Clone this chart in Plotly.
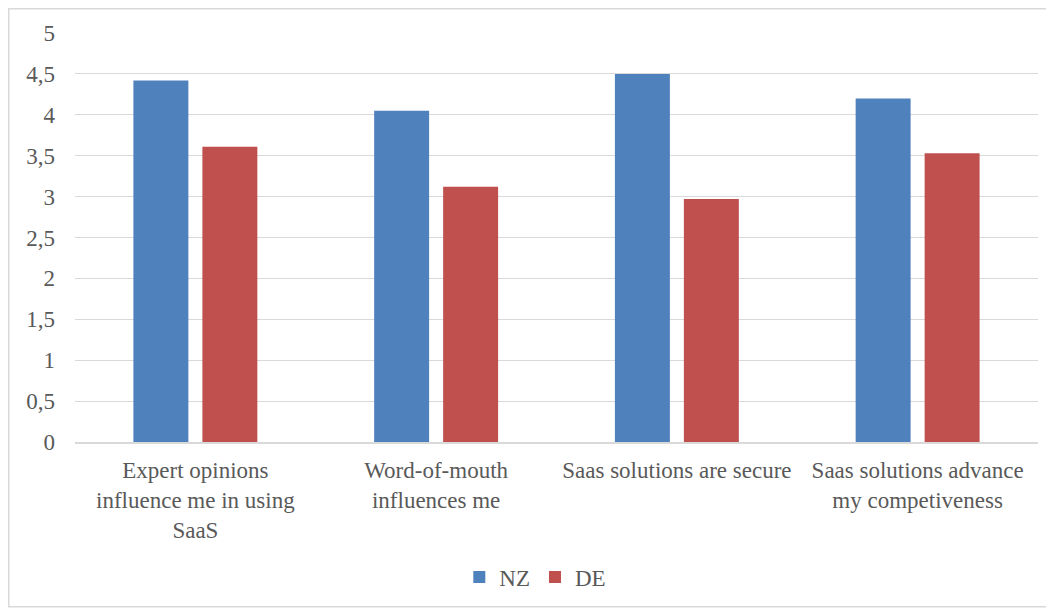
import plotly.graph_objects as go

categories = [
    "Expert opinions<br>influence me in using<br>SaaS",
    "Word-of-mouth<br>influences me",
    "Saas solutions are secure",
    "Saas solutions advance<br>my competiveness",
]
nz_values = [4.42, 4.05, 4.50, 4.20]
de_values = [3.61, 3.12, 2.97, 3.53]
y_ticks = [0, 0.5, 1, 1.5, 2, 2.5, 3, 3.5, 4, 4.5, 5]
y_tick_labels = ["0", "0,5", "1", "1,5", "2", "2,5", "3", "3,5", "4", "4,5", "5"]

FONT = "'Times New Roman', 'Liberation Serif', 'DejaVu Serif', serif"
TEXT = "#595959"
FS = 23

fig = go.Figure()
fig.add_trace(go.Bar(name="NZ", x=categories, y=nz_values, marker_color="#4f81bd",
                     marker_line_width=0))
fig.add_trace(go.Bar(name="DE", x=categories, y=de_values, marker_color="#c0504d",
                     marker_line_width=0))

# page body has an 8px margin, so the figure is drawn 8px smaller and offset
fig.update_layout(
    width=1046, height=606,
    margin=dict(l=67, r=16, t=25, b=172, autoexpand=False),
    paper_bgcolor="white", plot_bgcolor="white",
    barmode="group", bargap=0.427, bargroupgap=0.203,
    font=dict(family=FONT, size=FS, color=TEXT),
    showlegend=True,
    legend=dict(orientation="h", x=0.478, xanchor="center", y=-0.33, yanchor="middle",
                font=dict(family=FONT, size=FS, color=TEXT),
                itemwidth=30, tracegroupgap=0),
    shapes=[dict(type="rect", xref="paper", yref="paper",
                 x0=-0.0688, x1=1.0094, y0=-0.403, y1=1.0593,
                 line=dict(color="#d9d9d9", width=1.5), layer="below")],
)
fig.update_yaxes(range=[0, 5], tickvals=y_ticks, ticktext=y_tick_labels,
                 showgrid=True, gridcolor="#d9d9d9", gridwidth=1.3,
                 zeroline=False, showline=False, ticks="",
                 ticklabelstandoff=19,
                 tickfont=dict(family=FONT, size=FS, color=TEXT))
fig.update_xaxes(showgrid=False, showline=True, linecolor="#d9d9d9", linewidth=1.5,
                 ticks="", ticklabelstandoff=7, tickangle=0,
                 tickfont=dict(family=FONT, size=FS, color=TEXT))

fig.write_html("out.html")
